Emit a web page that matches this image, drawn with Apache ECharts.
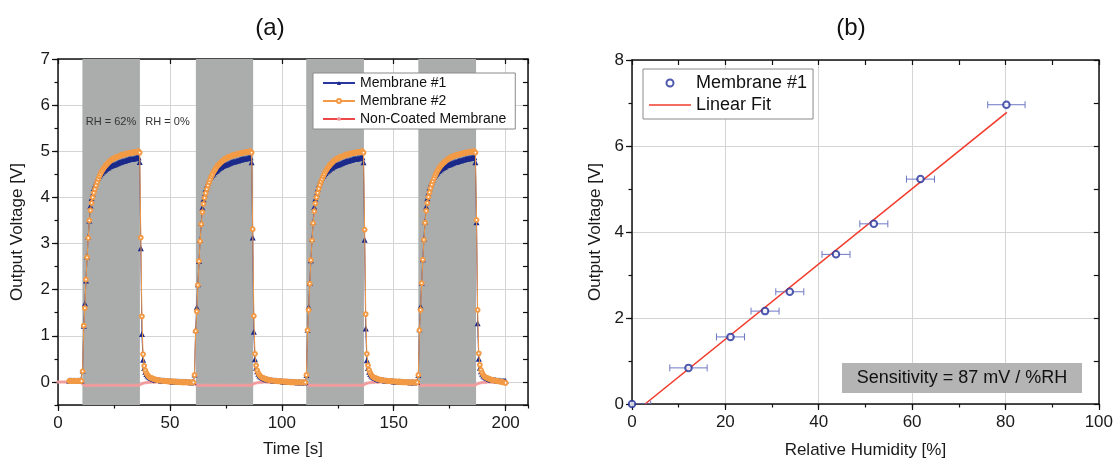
<!DOCTYPE html>
<html>
<head>
<meta charset="utf-8">
<script src="https://cdn.jsdelivr.net/npm/echarts@6/dist/echarts.min.js"></script>
<style>
html,body{margin:0;padding:0;background:#fff;}
#chart{width:1116px;height:466px;}
</style>
</head>
<body>
<div id="chart"></div>
<script>
// ---------- Panel (a): time response ----------
// Membrane #1 / #2 sampled every 0.5 s starting at t = 5 s
const memT0 = 5, memDT = 0.5;
// Non-coated membrane sampled every 1 s starting at t = 0 s
const ncT0 = 0, ncDT = 1;

const membrane1 = [
  // 5.0 - 10.5 s
  0.03,0.03,0.03,0.02,0.03,0.03,0.02,0.03,0.03,0.03,0.02,0.03,
  // cycle 1 : 11.0 - 36.5 s
  0.25,1.22,1.70,2.20,2.72,3.15,3.50,3.82,3.98,4.08,
  4.20,4.27,4.33,4.38,4.43,4.47,4.50,4.53,4.56,4.58,
  4.60,4.62,4.64,4.65,4.67,4.68,4.69,4.70,4.71,4.72,
  4.73,4.74,4.75,4.76,4.77,4.78,4.79,4.79,4.80,4.81,
  4.81,4.82,4.83,4.83,4.84,4.84,4.85,4.85,4.86,4.86,
  4.87,4.77,
  // recovery : 37.0 - 60.5 s
  2.90,1.04,0.48,0.30,0.22,0.17,0.14,0.12,0.10,0.09,
  0.08,0.07,0.06,0.05,0.05,0.04,0.04,0.04,0.03,0.03,
  0.03,0.03,0.02,0.02,0.02,0.02,0.02,0.02,0.01,0.01,
  0.01,0.01,0.01,0.01,0.01,0.01,0.00,0.01,0.00,0.00,
  0.01,0.00,0.00,0.00,0.00,-0.01,0.00,0.00,
  // cycle 2 : 61.0 - 86.5 s
  0.16,1.13,1.62,2.12,2.62,3.08,3.45,3.78,3.96,4.07,
  4.18,4.26,4.32,4.37,4.42,4.46,4.49,4.52,4.55,4.57,
  4.59,4.61,4.63,4.65,4.66,4.68,4.69,4.70,4.71,4.72,
  4.73,4.74,4.75,4.76,4.77,4.78,4.78,4.79,4.80,4.80,
  4.81,4.82,4.82,4.83,4.84,4.84,4.85,4.85,4.86,4.86,
  4.87,4.76,
  // recovery : 87.0 - 110.5 s
  3.13,1.09,0.49,0.31,0.23,0.18,0.14,0.12,0.10,0.09,
  0.08,0.07,0.06,0.06,0.05,0.05,0.04,0.04,0.03,0.03,
  0.03,0.03,0.02,0.02,0.02,0.02,0.02,0.01,0.01,0.01,
  0.01,0.01,0.01,0.01,0.00,0.01,0.00,0.00,0.00,0.00,
  -0.01,0.00,0.00,-0.01,0.00,0.00,-0.01,0.00,
  // cycle 3 : 111.0 - 136.5 s
  0.15,1.13,1.63,2.15,2.64,3.10,3.47,3.79,3.97,4.08,
  4.19,4.27,4.33,4.38,4.43,4.47,4.50,4.53,4.56,4.58,
  4.60,4.62,4.64,4.65,4.67,4.68,4.69,4.70,4.71,4.72,
  4.73,4.74,4.75,4.76,4.77,4.78,4.79,4.79,4.80,4.81,
  4.81,4.82,4.83,4.83,4.84,4.84,4.85,4.85,4.86,4.86,
  4.87,4.76,
  // recovery : 137.0 - 160.5 s
  3.08,1.16,0.47,0.30,0.22,0.17,0.14,0.12,0.10,0.09,
  0.08,0.07,0.06,0.05,0.05,0.04,0.04,0.04,0.03,0.03,
  0.03,0.02,0.02,0.02,0.02,0.02,0.01,0.01,0.01,0.01,
  0.01,0.01,0.01,0.00,0.01,0.00,0.00,0.00,0.00,0.00,
  0.00,-0.01,0.00,0.00,-0.01,0.00,0.00,0.00,
  // cycle 4 : 161.0 - 186.5 s
  0.15,1.14,1.64,2.15,2.66,3.11,3.48,3.80,3.98,4.09,
  4.20,4.28,4.34,4.39,4.44,4.48,4.51,4.54,4.57,4.59,
  4.61,4.63,4.64,4.66,4.67,4.69,4.70,4.71,4.72,4.73,
  4.74,4.75,4.76,4.77,4.77,4.78,4.79,4.80,4.80,4.81,
  4.82,4.82,4.83,4.84,4.84,4.85,4.85,4.86,4.86,4.87,
  4.87,4.76,
  // recovery : 187.0 - 200.0 s
  3.46,1.27,0.50,0.31,0.23,0.18,0.14,0.12,0.10,0.09,
  0.08,0.07,0.06,0.05,0.05,0.04,0.04,0.04,0.03,0.03,
  0.03,0.03,0.02,0.02,0.02,0.02,0.02
];

const membrane2 = [
  // 5.0 - 10.5 s
  0.02,0.02,0.02,0.02,0.02,0.02,0.02,0.02,0.02,0.02,0.02,0.02,
  // cycle 1
  0.23,1.22,1.60,2.22,2.70,3.12,3.50,3.72,3.88,4.00,
  4.10,4.18,4.26,4.33,4.40,4.46,4.51,4.56,4.60,4.64,
  4.67,4.70,4.73,4.75,4.78,4.80,4.82,4.83,4.85,4.86,
  4.87,4.88,4.89,4.90,4.91,4.92,4.93,4.93,4.94,4.95,
  4.95,4.96,4.96,4.97,4.97,4.97,4.98,4.98,4.99,4.99,
  5.00,4.97,
  // recovery
  3.13,1.42,0.60,0.35,0.25,0.19,0.15,0.12,0.10,0.09,
  0.08,0.07,0.06,0.05,0.05,0.04,0.04,0.03,0.03,0.03,
  0.02,0.02,0.02,0.02,0.01,0.01,0.01,0.01,0.01,0.01,
  0.00,0.01,0.00,0.00,0.00,0.00,-0.01,0.00,-0.01,-0.01,
  0.00,-0.01,-0.01,-0.01,-0.01,-0.01,-0.01,-0.01,
  // cycle 2
  0.15,1.10,1.53,2.10,2.62,3.05,3.42,3.68,3.86,3.99,
  4.09,4.18,4.26,4.33,4.39,4.45,4.50,4.55,4.59,4.63,
  4.67,4.70,4.72,4.75,4.77,4.79,4.81,4.83,4.84,4.86,
  4.87,4.88,4.89,4.90,4.91,4.92,4.92,4.93,4.94,4.94,
  4.95,4.96,4.96,4.97,4.97,4.98,4.98,4.98,4.99,4.99,
  5.00,4.97,
  // recovery
  3.31,1.43,0.61,0.36,0.25,0.19,0.15,0.12,0.10,0.09,
  0.08,0.07,0.06,0.05,0.05,0.04,0.04,0.03,0.03,0.03,
  0.02,0.02,0.02,0.02,0.01,0.01,0.01,0.01,0.01,0.00,
  0.01,0.00,0.00,0.00,-0.01,0.00,-0.01,-0.01,0.00,-0.01,
  -0.01,-0.01,-0.01,-0.01,-0.01,-0.01,-0.01,-0.01,
  // cycle 3
  0.15,1.12,1.56,2.13,2.64,3.07,3.44,3.70,3.87,4.00,
  4.10,4.19,4.27,4.34,4.40,4.46,4.51,4.56,4.60,4.64,
  4.67,4.70,4.73,4.75,4.78,4.80,4.82,4.83,4.85,4.86,
  4.87,4.88,4.89,4.90,4.91,4.92,4.93,4.93,4.94,4.95,
  4.95,4.96,4.96,4.97,4.97,4.98,4.98,4.98,4.99,4.99,
  5.00,4.97,
  // recovery
  3.30,1.47,0.61,0.36,0.26,0.20,0.15,0.12,0.10,0.09,
  0.08,0.07,0.06,0.05,0.05,0.04,0.04,0.03,0.03,0.03,
  0.02,0.02,0.02,0.02,0.01,0.01,0.01,0.01,0.01,0.00,
  0.00,0.01,0.00,0.00,-0.01,0.00,-0.01,0.00,-0.01,-0.01,
  -0.01,-0.01,-0.01,-0.01,-0.01,-0.01,-0.01,-0.01,
  // cycle 4
  0.15,1.12,1.56,2.14,2.65,3.08,3.45,3.71,3.88,4.01,
  4.11,4.20,4.28,4.35,4.41,4.47,4.52,4.57,4.61,4.65,
  4.68,4.71,4.74,4.76,4.78,4.80,4.82,4.84,4.85,4.87,
  4.88,4.89,4.90,4.91,4.92,4.92,4.93,4.94,4.94,4.95,
  4.96,4.96,4.97,4.97,4.98,4.98,4.98,4.99,4.99,5.00,
  5.00,4.97,
  // recovery
  3.51,1.56,0.62,0.37,0.26,0.20,0.15,0.12,0.10,0.09,
  0.08,0.07,0.06,0.05,0.04,0.04,0.03,0.03,0.02,0.02,
  0.01,0.01,0.00,0.00,-0.01,-0.01,-0.02
];

const nonCoated = [
  // 0 - 10 s
  0.00,0.00,0.00,0.00,0.00,0.00,0.00,0.00,0.00,0.00,0.00,
  // 11 - 39 s
  -0.04,-0.07,-0.08,-0.07,-0.07,-0.08,-0.07,-0.07,-0.07,-0.08,-0.07,-0.07,-0.07,-0.08,
  -0.07,-0.07,-0.07,-0.08,-0.07,-0.07,-0.07,-0.08,-0.07,-0.07,-0.07,-0.07,-0.05,-0.03,-0.02,
  // 40 - 60 s
  -0.01,-0.01,0.00,-0.01,0.00,0.00,-0.01,0.00,0.00,0.00,-0.01,0.00,0.00,0.00,-0.01,0.00,0.00,0.00,0.00,-0.01,0.00,
  // 61 - 89 s
  -0.04,-0.07,-0.07,-0.08,-0.07,-0.07,-0.07,-0.08,-0.07,-0.07,-0.08,-0.07,-0.07,-0.07,
  -0.08,-0.07,-0.07,-0.07,-0.07,-0.08,-0.07,-0.07,-0.08,-0.07,-0.07,-0.07,-0.05,-0.03,-0.02,
  // 90 - 110 s
  -0.01,-0.01,0.00,0.00,-0.01,0.00,0.00,0.00,-0.01,0.00,0.00,-0.01,0.00,0.00,0.00,0.00,-0.01,0.00,0.00,0.00,0.00,
  // 111 - 139 s
  -0.04,-0.07,-0.07,-0.07,-0.08,-0.07,-0.07,-0.08,-0.07,-0.07,-0.07,-0.08,-0.07,-0.07,
  -0.07,-0.07,-0.08,-0.07,-0.07,-0.07,-0.08,-0.07,-0.07,-0.07,-0.07,-0.07,-0.05,-0.03,-0.02,
  // 140 - 160 s
  -0.01,-0.01,0.00,-0.01,0.00,0.00,0.00,-0.01,0.00,0.00,0.00,0.00,-0.01,0.00,0.00,0.00,-0.01,0.00,0.00,0.00,0.00,
  // 161 - 189 s
  -0.04,-0.07,-0.08,-0.07,-0.07,-0.07,-0.08,-0.07,-0.07,-0.07,-0.07,-0.08,-0.07,-0.07,
  -0.07,-0.08,-0.07,-0.07,-0.07,-0.07,-0.08,-0.07,-0.07,-0.07,-0.07,-0.07,-0.05,-0.03,-0.02,
  // 190 - 200 s
  -0.01,-0.01,0.00,0.00,-0.01,0.00,0.00,0.00,-0.01,0.00,0.00
];

// humid (RH = 62 %) intervals, seconds
const bandStart = [10.9, 61.6, 110.9, 161.0];
const bandEnd   = [36.6, 87.2, 136.7, 186.8];

// ---------- Panel (b): calibration ----------
const rhValues   = [0, 12.1, 21.1, 28.5, 33.8, 43.7, 51.8, 61.8, 80.2];
const voltValues = [0, 0.84, 1.56, 2.16, 2.61, 3.48, 4.19, 5.23, 6.96];
const rhError    = [4, 4, 3, 3, 3, 3, 3, 3, 4];
const fitX = [2.8, 80.3];
const fitY = [0, 6.78];

const FONT = 'Liberation Sans, Arial, sans-serif';
const AX = '#111';

const m1Data = membrane1.map((v, i) => [memT0 + i * memDT, v]);
const m2Data = membrane2.map((v, i) => [memT0 + i * memDT, v]);
const ncData = nonCoated.map((v, i) => [ncT0 + i * ncDT, v]);
const scatterData = rhValues.map((x, i) => [x, voltValues[i]]);
const errData = rhValues.map((x, i) => [x, voltValues[i], rhError[i]]);
const fitData = fitX.map((x, i) => [x, fitY[i]]);

function mainAxis(o) {
  return Object.assign({
    type: 'value',
    axisLine: { show: true, onZero: false, lineStyle: { color: AX, width: 1.5 } },
    axisTick: { show: true, inside: false, length: 6, lineStyle: { color: AX, width: 1.2 } },
    axisLabel: { show: true, color: '#1a1a1a', fontSize: 17, fontFamily: FONT },
    splitLine: { show: true, lineStyle: { color: '#d4d4d4', width: 1 } },
    nameLocation: 'middle',
    nameTextStyle: { color: '#1a1a1a', fontSize: 17, fontFamily: FONT }
  }, o);
}
function tickAxis(o, inside, len, showLine) {
  return Object.assign({
    type: 'value',
    axisLine: { show: !!showLine, onZero: false, lineStyle: { color: AX, width: 1.5 } },
    axisTick: { show: true, inside: inside, length: len, lineStyle: { color: AX, width: 1.2 } },
    axisLabel: { show: false },
    splitLine: { show: false }
  }, o);
}

const chart = echarts.init(document.getElementById('chart'), null, { renderer: 'canvas' });

const option = {
  animation: false,
  backgroundColor: '#fff',
  textStyle: { fontFamily: FONT },
  grid: [
    { left: 58, top: 59, width: 470, height: 346 },
    { left: 632, top: 60, width: 467, height: 344 }
  ],
  xAxis: [
    mainAxis({ gridIndex: 0, min: 0, max: 210, interval: 50, position: 'bottom',
      axisLabel: { color: '#1a1a1a', fontSize: 17, fontFamily: FONT, margin: 10, showMaxLabel: false },
      name: 'Time [s]', nameGap: 36 }),
    tickAxis({ gridIndex: 0, min: 0, max: 210, interval: 25, position: 'bottom' }, false, 3.5, false),
    tickAxis({ gridIndex: 0, min: 0, max: 210, interval: 25, position: 'top' }, true, 5, true),
    mainAxis({ gridIndex: 1, min: 0, max: 100, interval: 20, position: 'bottom',
      axisLabel: { color: '#1a1a1a', fontSize: 17, fontFamily: FONT, margin: 10 },
      name: 'Relative Humidity [%]', nameGap: 38 }),
    tickAxis({ gridIndex: 1, min: 0, max: 100, interval: 10, position: 'bottom' }, false, 3.5, false),
    tickAxis({ gridIndex: 1, min: 0, max: 100, interval: 10, position: 'top' }, true, 5, true)
  ],
  yAxis: [
    mainAxis({ gridIndex: 0, min: -0.5, max: 7, splitNumber: 8, position: 'left',
      axisLabel: { color: '#1a1a1a', fontSize: 17, fontFamily: FONT, margin: 8, showMinLabel: false },
      name: 'Output Voltage [V]', nameGap: 32 }),
    tickAxis({ gridIndex: 0, min: -0.5, max: 7, interval: 0.5, position: 'left' }, false, 3.5, false),
    tickAxis({ gridIndex: 0, min: -0.5, max: 7, interval: 0.5, position: 'right' }, true, 5, true),
    mainAxis({ gridIndex: 1, min: 0, max: 8, interval: 2, position: 'left',
      axisLabel: { color: '#1a1a1a', fontSize: 17, fontFamily: FONT, margin: 8 },
      name: 'Output Voltage [V]', nameGap: 28 }),
    tickAxis({ gridIndex: 1, min: 0, max: 8, interval: 1, position: 'left' }, false, 3.5, false),
    tickAxis({ gridIndex: 1, min: 0, max: 8, interval: 1, position: 'right' }, true, 5, true)
  ],
  legend: [
    {
      data: ['Membrane #1', 'Membrane #2', 'Non-Coated Membrane'],
      orient: 'vertical', left: 313, top: 73,
      padding: [2, 9], itemGap: 2, itemWidth: 32, itemHeight: 5,
      backgroundColor: '#fff', borderColor: '#8a8a8a', borderWidth: 1, borderRadius: 0,
      textStyle: { fontSize: 14, lineHeight: 16, color: '#111', fontFamily: FONT },
      selectedMode: false
    },
    {
      data: [
        { name: 'Membrane #1 (b)', icon: 'emptyCircle' },
        { name: 'Linear Fit', icon: 'path://M0,0L40,0L40,1.4L0,1.4Z', itemStyle: { color: '#f23b2c' } }
      ],
      formatter: function (n) { return n === 'Membrane #1 (b)' ? 'Membrane #1' : n; },
      orient: 'vertical', left: 643, top: 69,
      padding: [4, 6], itemGap: 2, itemWidth: 42, itemHeight: 7,
      backgroundColor: '#fff', borderColor: '#8a8a8a', borderWidth: 1, borderRadius: 0,
      textStyle: { fontSize: 18, lineHeight: 20, color: '#111', fontFamily: FONT },
      selectedMode: false
    }
  ],
  graphic: [
    { type: 'text', x: 270, y: 28, style: { text: '(a)', fontSize: 24, fontFamily: FONT, fill: '#111', align: 'center', verticalAlign: 'middle' } },
    { type: 'text', x: 851, y: 28, style: { text: '(b)', fontSize: 24, fontFamily: FONT, fill: '#111', align: 'center', verticalAlign: 'middle' } },
    { type: 'text', x: 111, y: 122, z: 10, style: { text: 'RH = 62%', fontSize: 11, fontFamily: FONT, fill: '#333', align: 'center', verticalAlign: 'middle' } },
    { type: 'text', x: 167.5, y: 122, z: 10, style: { text: 'RH = 0%', fontSize: 11, fontFamily: FONT, fill: '#333', align: 'center', verticalAlign: 'middle' } },
    { type: 'rect', z: 10, shape: { x: 842, y: 363, width: 240, height: 30 }, style: { fill: '#b4b4b4' } },
    { type: 'text', z: 11, x: 962, y: 378.5, style: { text: 'Sensitivity = 87 mV / %RH', fontSize: 18, fontFamily: FONT, fill: '#111', align: 'center', verticalAlign: 'middle' } }
  ],
  series: [
    {
      name: 'bands', type: 'line', xAxisIndex: 0, yAxisIndex: 0, data: [], silent: true,
      markArea: {
        silent: true,
        itemStyle: { color: '#abadad', opacity: 1 },
        data: bandStart.map((s, i) => [{ xAxis: s }, { xAxis: bandEnd[i] }])
      }
    },
    {
      name: 'Non-Coated Membrane', type: 'line', xAxisIndex: 0, yAxisIndex: 0,
      data: ncData, symbol: 'circle', symbolSize: 3.5, showSymbol: true,
      lineStyle: { color: '#ec4848', width: 1.2 },
      itemStyle: { color: '#f2a0a0', opacity: 0.85 },
      z: 3
    },
    {
      name: 'Membrane #1', type: 'line', xAxisIndex: 0, yAxisIndex: 0,
      data: m1Data, symbol: 'triangle', symbolSize: 6, showSymbol: true,
      lineStyle: { color: '#2a379e', width: 1 },
      itemStyle: { color: '#1b2a8a' },
      z: 4
    },
    {
      name: 'Membrane #2', type: 'line', xAxisIndex: 0, yAxisIndex: 0,
      data: m2Data, symbol: 'emptyCircle', symbolSize: 3.8, showSymbol: true,
      lineStyle: { color: '#f29a45', width: 1 },
      itemStyle: { color: '#f29a45', borderColor: '#f29a45', borderWidth: 0.9 },
      z: 5
    },
    {
      name: 'Linear Fit', type: 'line', xAxisIndex: 3, yAxisIndex: 3,
      data: fitData, symbol: 'none', showSymbol: false,
      lineStyle: { color: '#f23b2c', width: 1.6 },
      itemStyle: { color: '#f23b2c' },
      z: 3
    },
    {
      name: 'errors', type: 'custom', xAxisIndex: 3, yAxisIndex: 3,
      data: errData, clip: true, silent: true, z: 4,
      encode: { x: 0, y: 1 },
      renderItem: function (params, api) {
        const x = api.value(0), y = api.value(1), e = api.value(2);
        const p1 = api.coord([x - e, y]);
        const p2 = api.coord([x + e, y]);
        const h = 3.5;
        const st = { stroke: '#6f78c4', lineWidth: 1 };
        return {
          type: 'group',
          children: [
            { type: 'line', shape: { x1: p1[0], y1: p1[1], x2: p2[0], y2: p2[1] }, style: st },
            { type: 'line', shape: { x1: p1[0], y1: p1[1] - h, x2: p1[0], y2: p1[1] + h }, style: st },
            { type: 'line', shape: { x1: p2[0], y1: p2[1] - h, x2: p2[0], y2: p2[1] + h }, style: st }
          ]
        };
      }
    },
    {
      name: 'Membrane #1 (b)', type: 'scatter', xAxisIndex: 3, yAxisIndex: 3,
      data: scatterData, symbol: 'emptyCircle', symbolSize: 6.5,
      itemStyle: { color: '#23309a', borderColor: '#23309a', borderWidth: 2 },
      z: 6
    }
  ]
};

chart.setOption(option);
</script>
</body>
</html>
